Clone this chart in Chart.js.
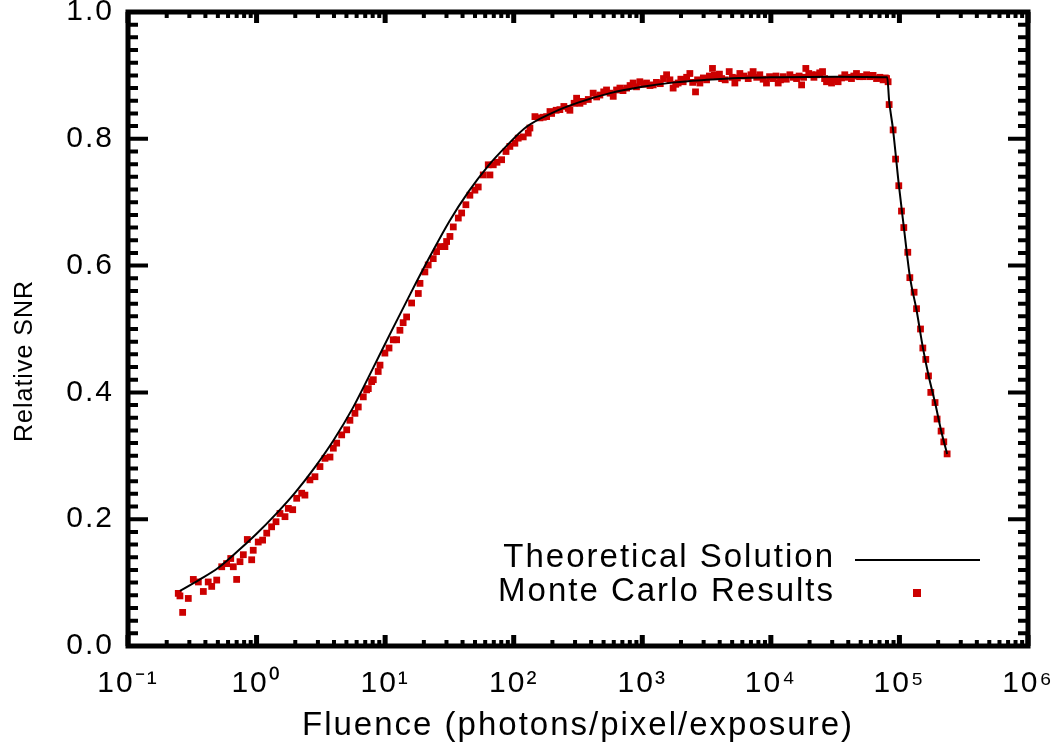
<!DOCTYPE html>
<html>
<head>
<meta charset="utf-8">
<title>Relative SNR vs Fluence</title>
<script src="https://cdn.jsdelivr.net/npm/chart.js@4.4.1/dist/chart.umd.min.js"></script>
<style>
	html, body { margin: 0; padding: 0; background: #fff; }
	canvas { display: block; }
</style>
</head>
<body>
<canvas id="snrChart" width="1060" height="750"></canvas>
<script>
// Axis ticks
const xTickValues = [0.1, 1, 10, 100, 1000, 10000, 100000, 1000000];
const xTickLabels = ["10\u207B\u00B9", "10\u2070", "10\u00B9", "10\u00B2", "10\u00B3", "10\u2074", "10\u2075", "10\u2076"];
const yTickValues = [0, 0.2, 0.4, 0.6, 0.8, 1.0];
const yTickLabels = ["0.0", "0.2", "0.4", "0.6", "0.8", "1.0"];
const xTitle = "Fluence (photons/pixel/exposure)";
const yTitle = "Relative SNR";

// Theoretical solution (log10 fluence, relative SNR)
const theoryLogX = [
	-0.596, -0.45, -0.3, -0.15, 0.0, 0.15, 0.3, 0.45, 0.6, 0.75, 0.9, 1.05,
	1.2, 1.35, 1.5, 1.65, 1.8, 1.95, 2.1, 2.3, 2.5, 2.75, 3.0, 3.25, 3.5,
	3.75, 4.0, 4.5, 4.905, 4.92, 4.95, 4.995, 5.034, 5.081, 5.133, 5.182,
	5.226, 5.277, 5.324, 5.371,
];
const theoryY = [
	0.087, 0.104, 0.123, 0.149, 0.177, 0.208, 0.242, 0.281, 0.325, 0.376, 0.436, 0.497,
	0.557, 0.615, 0.670, 0.717, 0.757, 0.790, 0.819, 0.841, 0.857, 0.872, 0.882, 0.889, 0.893,
	0.896, 0.897, 0.898, 0.897, 0.860, 0.815, 0.728, 0.661, 0.583, 0.530, 0.471,
	0.427, 0.384, 0.340, 0.303,
];

// Monte Carlo results (log10 fluence, relative SNR)
const monteLogX = [
	-0.609, -0.596, -0.575, -0.531, -0.492, -0.453, -0.414, -0.376, -0.349, -0.310,
	-0.271, -0.233, -0.201, -0.181, -0.155, -0.129, -0.103, -0.072, -0.038, -0.026,
	0.013, 0.047, 0.079, 0.117, 0.151, 0.182, 0.221, 0.247, 0.281, 0.312,
	0.351, 0.376, 0.415, 0.454, 0.493, 0.532, 0.571, 0.597, 0.623, 0.662,
	0.701, 0.726, 0.765, 0.791, 0.830, 0.856, 0.869, 0.895, 0.908, 0.946,
	0.960, 0.998, 1.030, 1.063, 1.089, 1.115, 1.140, 1.167, 1.206, 1.258,
	1.271, 1.309, 1.335, 1.374, 1.400, 1.426, 1.465, 1.478, 1.504, 1.530,
	1.569, 1.595, 1.628, 1.659, 1.698, 1.724, 1.763, 1.802, 1.815, 1.841,
	1.870, 1.906, 1.940, 1.970, 2.009, 2.035, 2.074, 2.113, 2.126, 2.165,
	2.204, 2.230, 2.256, 2.282, 2.295, 2.330, 2.359, 2.390, 2.424, 2.437,
	2.470, 2.489, 2.515, 2.541, 2.580, 2.618, 2.645, 2.670, 2.700, 2.722,
	2.750, 2.774, 2.800, 2.826, 2.850, 2.878, 2.905, 2.929, 2.955, 2.981,
	3.010, 3.033, 3.060, 3.085, 3.110, 3.140, 3.165, 3.189, 3.215, 3.240,
	3.260, 3.279, 3.300, 3.318, 3.345, 3.370, 3.392, 3.414, 3.430, 3.448,
	3.475, 3.500, 3.522, 3.546, 3.560, 3.578, 3.600, 3.617, 3.645, 3.676,
	3.700, 3.720, 3.740, 3.759, 3.790, 3.824, 3.845, 3.862, 3.890, 3.914,
	3.940, 3.966, 3.990, 4.018, 4.040, 4.057, 4.075, 4.096, 4.120, 4.148,
	4.175, 4.200, 4.220, 4.239, 4.255, 4.272, 4.295, 4.316, 4.335, 4.355,
	4.380, 4.402, 4.418, 4.433, 4.450, 4.472, 4.500, 4.523, 4.550, 4.575,
	4.600, 4.627, 4.645, 4.666, 4.690, 4.718, 4.745, 4.770, 4.795, 4.822,
	4.848, 4.873, 4.890, 4.900, 4.912, 4.920, 4.951, 4.970, 4.995, 5.016,
	5.034, 5.065, 5.081, 5.114, 5.133, 5.164, 5.182, 5.205, 5.226, 5.244,
	5.277, 5.293, 5.324, 5.345, 5.371,
];
const monteY = [
	0.083, 0.079, 0.053, 0.075, 0.105, 0.101, 0.086, 0.101, 0.094, 0.104,
	0.125, 0.130, 0.138, 0.125, 0.105, 0.133, 0.144, 0.168, 0.136, 0.151,
	0.164, 0.167, 0.178, 0.188, 0.196, 0.209, 0.204, 0.217, 0.215, 0.233,
	0.241, 0.238, 0.262, 0.267, 0.283, 0.296, 0.298, 0.312, 0.320, 0.333,
	0.341, 0.356, 0.367, 0.377, 0.393, 0.404, 0.406, 0.417, 0.420, 0.433,
	0.443, 0.462, 0.470, 0.483, 0.483, 0.498, 0.510, 0.519, 0.541, 0.556,
	0.572, 0.590, 0.601, 0.611, 0.622, 0.630, 0.630, 0.638, 0.646, 0.661,
	0.675, 0.683, 0.696, 0.711, 0.719, 0.724, 0.743, 0.759, 0.743, 0.759,
	0.763, 0.767, 0.780, 0.788, 0.793, 0.801, 0.803, 0.809, 0.817, 0.835,
	0.833, 0.834, 0.835, 0.843, 0.840, 0.845, 0.846, 0.851, 0.848, 0.845,
	0.856, 0.864, 0.856, 0.859, 0.862, 0.872, 0.866, 0.869, 0.874, 0.877,
	0.872, 0.867, 0.877, 0.880, 0.876, 0.880, 0.884, 0.888, 0.882, 0.890,
	0.886, 0.888, 0.884, 0.885, 0.889, 0.887, 0.895, 0.901, 0.893, 0.880,
	0.886, 0.888, 0.894, 0.890, 0.897, 0.903, 0.889, 0.874, 0.893, 0.888,
	0.896, 0.893, 0.899, 0.911, 0.900, 0.898, 0.902, 0.895, 0.893, 0.906,
	0.897, 0.888, 0.896, 0.903, 0.899, 0.895, 0.901, 0.906, 0.897, 0.901,
	0.894, 0.888, 0.898, 0.895, 0.899, 0.888, 0.893, 0.898, 0.894, 0.901,
	0.897, 0.895, 0.899, 0.885, 0.897, 0.911, 0.903, 0.901, 0.897, 0.901,
	0.904, 0.906, 0.895, 0.890, 0.893, 0.888, 0.893, 0.890, 0.896, 0.901,
	0.897, 0.895, 0.899, 0.903, 0.898, 0.898, 0.901, 0.898, 0.900, 0.895,
	0.897, 0.893, 0.896, 0.895, 0.890, 0.854, 0.814, 0.768, 0.726, 0.686,
	0.660, 0.621, 0.581, 0.558, 0.532, 0.500, 0.470, 0.452, 0.426, 0.400,
	0.384, 0.358, 0.339, 0.322, 0.303,
];

const RED = "#cc0000";
const FONT = "'Liberation Sans', Arial, sans-serif";

function toPoints(logX, ys) {
	return logX.map(function (lx, i) {
		return { x: Math.pow(10, lx), y: ys[i] };
	});
}

// wide, spaced lettering like the old plotting font
function setSpacing(chart, px) {
	if ("letterSpacing" in chart.ctx) chart.ctx.letterSpacing = px + "px";
}

// IDL style box: thick frame with inward ticks, y title and the legend
const boxPlugin = {
	id: "boxPlugin",
	beforeUpdate(chart) {
		setSpacing(chart, 2);
	},
	beforeDraw(chart) {
		setSpacing(chart, 2);
	},
	afterDatasetsDraw(chart) {
		const ctx = chart.ctx;
		const area = chart.chartArea;
		const xs = chart.scales.x;
		const ys = chart.scales.y;
		ctx.save();
		ctx.strokeStyle = "#000";
		ctx.lineCap = "butt";

		// y ticks (minor every 0.02, major every 0.2)
		ctx.lineWidth = 4;
		for (let i = 0; i <= 50; i++) {
			const py = ys.getPixelForValue(i / 50);
			const len = i % 10 === 0 ? 20 : 10;
			ctx.beginPath();
			ctx.moveTo(area.left, py);
			ctx.lineTo(area.left + len, py);
			ctx.moveTo(area.right, py);
			ctx.lineTo(area.right - len, py);
			ctx.stroke();
		}

		// x ticks (log minor 2..9, major at decades)
		for (let d = -1; d <= 6; d++) {
			for (let m = 1; m <= 9; m++) {
				const v = m * Math.pow(10, d);
				if (v > 1e6 + 1) break;
				const px = xs.getPixelForValue(v);
				const len = m === 1 ? 11 : 6;
				ctx.lineWidth = m === 1 ? 5 : 4;
				ctx.beginPath();
				ctx.moveTo(px, area.bottom);
				ctx.lineTo(px, area.bottom - len);
				ctx.moveTo(px, area.top);
				ctx.lineTo(px, area.top + len);
				ctx.stroke();
			}
		}

		// frame
		ctx.lineWidth = 5;
		ctx.lineJoin = "miter";
		ctx.strokeRect(area.left, area.top, area.right - area.left, area.bottom - area.top);

		// y title
		ctx.fillStyle = "#000";
		ctx.textAlign = "center";
		ctx.textBaseline = "middle";
		ctx.font = "25px " + FONT;
		setSpacing(chart, 1);
		ctx.save();
		ctx.translate(25, 361);
		ctx.rotate(-Math.PI / 2);
		ctx.fillText(yTitle, 0, 0);
		ctx.restore();

		// legend
		const ds = chart.data.datasets;
		setSpacing(chart, 2);
		ctx.font = "33px " + FONT;
		ctx.textAlign = "right";
		ctx.fillText(ds[0].label, 835, 558);
		ctx.fillText(ds[1].label, 835, 592);
		ctx.lineWidth = 2;
		ctx.beginPath();
		ctx.moveTo(855, 560);
		ctx.lineTo(980, 560);
		ctx.stroke();
		ctx.fillStyle = RED;
		ctx.fillRect(913, 589, 8, 8);
		ctx.restore();
	},
};

new Chart(document.getElementById("snrChart"), {
	type: "scatter",
	data: {
		datasets: [
			{
				label: "Theoretical Solution",
				type: "line",
				data: toPoints(theoryLogX, theoryY),
				borderColor: "#000",
				borderWidth: 2,
				pointRadius: 0,
				cubicInterpolationMode: "monotone",
				fill: false,
				order: 0,
			},
			{
				label: "Monte Carlo Results",
				data: toPoints(monteLogX, monteY),
				backgroundColor: RED,
				borderWidth: 0,
				pointStyle: "rect",
				pointRadius: 4.8,
				order: 1,
			},
		],
	},
	options: {
		responsive: false,
		animation: false,
		devicePixelRatio: 1,
		layout: {
			padding: { top: 12, right: 32, bottom: 0, left: 0 },
		},
		plugins: {
			legend: { display: false },
			tooltip: { enabled: false },
		},
		scales: {
			x: {
				type: "logarithmic",
				min: 0.1,
				max: 1e6,
				border: { display: false },
				grid: { display: false, drawTicks: false },
				afterBuildTicks: function (scale) {
					scale.ticks = xTickValues.map(function (v) {
						return { value: v };
					});
				},
				afterFit: function (scale) {
					scale.height = 104;
					scale.paddingLeft = 0;
					scale.paddingRight = 0;
				},
				ticks: {
					autoSkip: false,
					maxRotation: 0,
					padding: 20,
					color: "#000",
					font: { family: FONT, size: 30 },
					callback: function (value, index) {
						return xTickLabels[index];
					},
				},
				title: {
					display: true,
					text: xTitle,
					color: "#000",
					font: { family: FONT, size: 33 },
					padding: { top: 0, bottom: 4 },
				},
			},
			y: {
				min: 0,
				max: 1,
				border: { display: false },
				grid: { display: false, drawTicks: false },
				afterBuildTicks: function (scale) {
					scale.ticks = yTickValues.map(function (v) {
						return { value: v };
					});
				},
				afterFit: function (scale) {
					scale.width = 128;
					scale.paddingTop = 0;
					scale.paddingBottom = 0;
				},
				ticks: {
					autoSkip: false,
					padding: 14,
					color: "#000",
					font: { family: FONT, size: 30 },
					callback: function (value, index) {
						return yTickLabels[index];
					},
				},
				title: { display: false },
			},
		},
	},
	plugins: [boxPlugin],
});
</script>
</body>
</html>
